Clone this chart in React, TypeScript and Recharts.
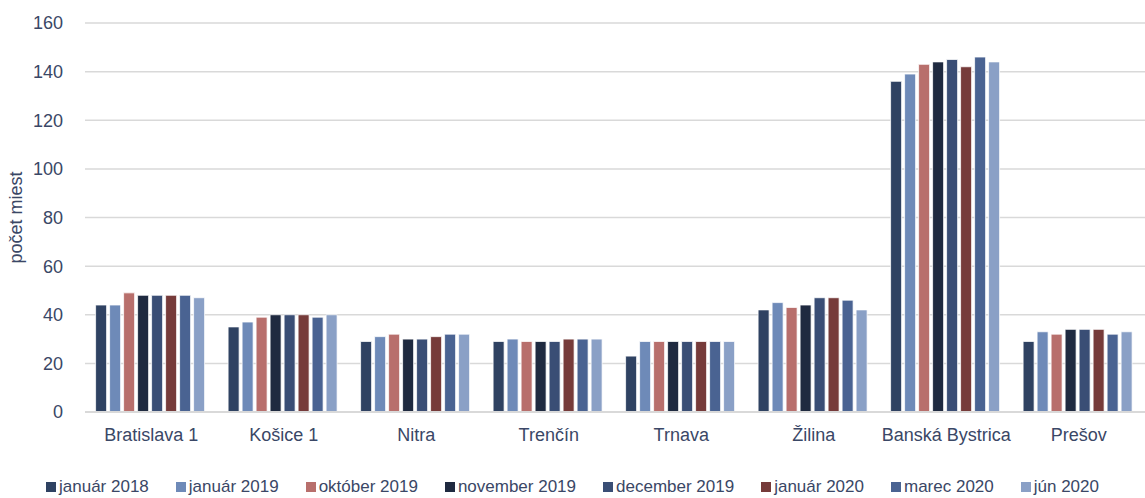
import { BarChart, Bar, XAxis, YAxis, CartesianGrid, Legend } from 'recharts'

const CITIES = ['Bratislava 1', 'Košice 1', 'Nitra', 'Trenčín', 'Trnava', 'Žilina', 'Banská Bystrica', 'Prešov']
const SERIES = ['január 2018', 'január 2019', 'október 2019', 'november 2019', 'december 2019', 'január 2020', 'marec 2020', 'jún 2020']
const COLORS = ['#2F4262', '#6E8AB8', '#B86F6C', '#1F2A40', '#3A4E75', '#763B3A', '#4A6392', '#8AA0C6']

const jan2018 = [44, 35, 29, 29, 23, 42, 136, 29]
const jan2019 = [44, 37, 31, 30, 29, 45, 139, 33]
const okt2019 = [49, 39, 32, 29, 29, 43, 143, 32]
const nov2019 = [48, 40, 30, 29, 29, 44, 144, 34]
const dec2019 = [48, 40, 30, 29, 29, 47, 145, 34]
const jan2020 = [48, 40, 31, 30, 29, 47, 142, 34]
const mar2020 = [48, 39, 32, 30, 29, 46, 146, 32]
const jun2020 = [47, 40, 32, 30, 29, 42, 144, 33]

const Y_TICKS = [0, 20, 40, 60, 80, 100, 120, 140, 160]

const values = [jan2018, jan2019, okt2019, nov2019, dec2019, jan2020, mar2020, jun2020]
const data = CITIES.map((city, i) => {
  const row: Record<string, string | number> = { city }
  SERIES.forEach((s, j) => { row[s] = values[j][i] })
  return row
})

const FONT = '"Liberation Sans Narrow", "Liberation Sans", Arial, sans-serif'
const TEXT = '#3A4766'

function LegendBox() {
  return (
    <div style={{ display: 'flex', justifyContent: 'center', gap: 27, paddingTop: 25, fontFamily: FONT, fontSize: 17, color: TEXT }}>
      {SERIES.map((s, i) => (
        <div key={s} style={{ display: 'flex', alignItems: 'center', gap: 3 }}>
          <span style={{ width: 10, height: 10, backgroundColor: COLORS[i], display: 'inline-block' }} />
          <span>{s}</span>
        </div>
      ))}
    </div>
  )
}

export default function App() {
  return (
    <div style={{ position: 'absolute', left: 0, top: 0, background: '#fff' }}>
      <BarChart width={1145} height={498} data={data} margin={{ top: 23, right: 0, left: 0, bottom: 0 }} barGap={3} barCategoryGap="8%">
        <CartesianGrid vertical={false} stroke="#D9D9D9" strokeWidth={1.5} />
        <XAxis dataKey="city" height={40} tickLine={false} axisLine={{ stroke: '#D9D9D9', strokeWidth: 2 }}
          tick={{ fill: TEXT, fontSize: 18, fontFamily: FONT }} tickMargin={10} interval={0} />
        <YAxis width={85} domain={[0, 160]} ticks={Y_TICKS} tickLine={false} axisLine={false}
          tick={{ fill: TEXT, fontSize: 18, fontFamily: FONT }} tickMargin={16}
          label={{ value: 'počet miest', angle: -90, position: 'insideLeft', offset: 16, style: { fill: TEXT, fontSize: 18, fontFamily: FONT, textAnchor: 'middle' } }} />
        <Legend verticalAlign="bottom" height={46} content={() => <LegendBox />} />
        {SERIES.map((s, i) => (
          <Bar key={s} dataKey={s} fill={COLORS[i]} stroke="#fff" strokeWidth={0.75} isAnimationActive={false} />
        ))}
      </BarChart>
    </div>
  )
}
